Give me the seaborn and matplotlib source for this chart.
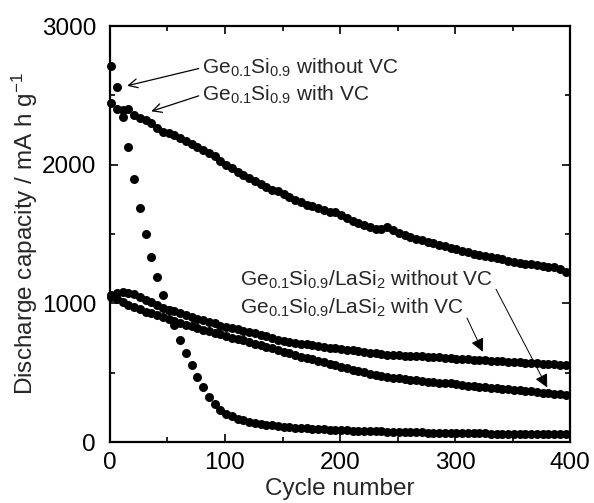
import numpy as np
import pandas as pd
import matplotlib
matplotlib.use("Agg")
import matplotlib.pyplot as plt
import seaborn as sns

# cycle numbers (every 5th cycle was plotted)
cycles = list(range(1, 401, 5))

# Ge0.1Si0.9 without VC
gesi_no_vc = [2714, 2558, 2346, 2130, 1901, 1690, 1502, 1336, 1190, 1060,
              950, 844, 740, 645, 555, 470, 395, 325, 275, 235,
              205, 185, 170, 158, 148, 140, 133, 127, 121, 116,
              112, 108, 105, 102, 99, 96, 94, 92, 90, 88,
              86, 85, 83, 82, 80, 79, 78, 77, 76, 75,
              74, 73, 72, 71, 70, 69, 68, 68, 67, 66,
              66, 65, 64, 64, 63, 63, 62, 62, 61, 61,
              60, 60, 59, 59, 58, 58, 58, 57, 57, 56]

# Ge0.1Si0.9 with VC
gesi_vc = [2447, 2406, 2395, 2400, 2360, 2340, 2320, 2305, 2265, 2240,
           2230, 2215, 2195, 2170, 2150, 2125, 2105, 2085, 2060, 2030,
           2000, 1975, 1945, 1925, 1905, 1885, 1862, 1840, 1820, 1808,
           1790, 1768, 1745, 1730, 1712, 1700, 1688, 1675, 1663, 1660,
           1640, 1615, 1595, 1580, 1565, 1548, 1538, 1535, 1548, 1530,
           1505, 1492, 1478, 1465, 1455, 1445, 1435, 1423, 1412, 1402,
           1392, 1382, 1372, 1360, 1350, 1343, 1335, 1325, 1318, 1308,
           1300, 1292, 1288, 1282, 1275, 1268, 1262, 1265, 1250, 1225]

# Ge0.1Si0.9/LaSi2 (upper curve)
lasi_upper = [1060, 1075, 1084, 1078, 1065, 1048, 1025, 1010, 990, 970,
              955, 945, 932, 920, 905, 890, 878, 866, 856, 838,
              830, 822, 815, 805, 795, 785, 775, 762, 752, 740,
              732, 725, 718, 710, 705, 700, 695, 688, 682, 678,
              674, 668, 662, 656, 650, 646, 640, 636, 632, 630,
              627, 624, 622, 620, 618, 616, 615, 612, 608, 604,
              600, 598, 596, 594, 592, 590, 588, 585, 583, 581,
              579, 577, 574, 571, 568, 565, 562, 560, 557, 555]

# Ge0.1Si0.9/LaSi2 (lower curve)
lasi_lower = [1048, 1030, 1010, 990, 974, 958, 942, 928, 914, 900,
              888, 875, 862, 848, 835, 822, 810, 800, 790, 778,
              766, 754, 745, 733, 721, 710, 699, 688, 676, 664,
              652, 640, 628, 617, 606, 596, 585, 575, 563, 553,
              543, 533, 523, 513, 503, 494, 486, 478, 471, 465,
              459, 455, 450, 446, 441, 437, 433, 429, 426, 423,
              418, 413, 408, 404, 400, 396, 392, 389, 386, 382,
              378, 374, 370, 366, 362, 357, 352, 348, 344, 339]

df = pd.DataFrame({
    "cycle": cycles * 4,
    "capacity": gesi_no_vc + gesi_vc + lasi_upper + lasi_lower,
    "series": (["gesi_no_vc"] * len(cycles) + ["gesi_vc"] * len(cycles)
               + ["lasi_upper"] * len(cycles) + ["lasi_lower"] * len(cycles)),
})

sns.set_theme(style="ticks")
plt.rcParams["font.family"] = ["Liberation Sans", "DejaVu Sans"]
plt.rcParams["mathtext.fontset"] = "custom"
plt.rcParams["mathtext.rm"] = "Liberation Sans"
plt.rcParams["mathtext.it"] = "Liberation Sans"
plt.rcParams["mathtext.bf"] = "Liberation Sans"

fs = 17.5
fs_note = 15

fig = plt.figure(figsize=(5.94, 5.03), dpi=100)
ax = fig.add_axes([0.185, 0.121, 0.775, 0.827])

for name in ["gesi_no_vc", "gesi_vc", "lasi_upper", "lasi_lower"]:
    sns.scatterplot(data=df[df["series"] == name], x="cycle", y="capacity",
                    color="black", s=42, linewidth=0, ax=ax, legend=False,
                    clip_on=False, zorder=3)

ax.set_xlim(0, 400)
ax.set_ylim(0, 3000)
ax.set_xticks([0, 100, 200, 300, 400])
ax.set_xticks([50, 150, 250, 350], minor=True)
ax.set_yticks([0, 1000, 2000, 3000])
ax.set_yticks([500, 1500, 2500], minor=True)
ax.tick_params(which="both", direction="in", top=True, right=True,
               width=1.2, labelsize=fs, colors="black")
ax.tick_params(which="major", length=6)
ax.tick_params(which="minor", length=3.8)
ax.tick_params(axis="x", pad=7)
ax.tick_params(axis="y", pad=10)
for sp in ax.spines.values():
    sp.set_linewidth(1.6)
    sp.set_color("black")

ax.set_xlabel("Cycle number", fontsize=fs, labelpad=3)
ax.set_ylabel("Discharge capacity / mA h g$^{\\mathregular{-1}}$", fontsize=fs, labelpad=1)

# annotations
top_arrow = dict(arrowstyle="->", color="black", lw=0.9, shrinkA=0, shrinkB=0,
                 mutation_scale=16, relpos=(0, 0.5))
ax.annotate("Ge$_{0.1}$Si$_{0.9}$ without VC", xy=(15, 2570), xytext=(80, 2700),
            fontsize=fs_note, va="center", ha="left", arrowprops=top_arrow)
ax.annotate("Ge$_{0.1}$Si$_{0.9}$ with VC", xy=(36, 2386), xytext=(80, 2505),
            fontsize=fs_note, va="center", ha="left", arrowprops=top_arrow)

low_arrow = dict(arrowstyle="-|>", color="black", lw=0.7, shrinkA=0, shrinkB=0,
                 mutation_scale=20, relpos=(1, 0.35))
ax.annotate("Ge$_{0.1}$Si$_{0.9}$/LaSi$_{2}$ without VC", xy=(380, 394), xytext=(113, 1172),
            fontsize=fs_note, va="center", ha="left", arrowprops=low_arrow)
ax.annotate("Ge$_{0.1}$Si$_{0.9}$/LaSi$_{2}$ with VC", xy=(324, 652), xytext=(113, 970),
            fontsize=fs_note, va="center", ha="left", arrowprops=low_arrow)

fig.savefig("out.png", dpi=100)
